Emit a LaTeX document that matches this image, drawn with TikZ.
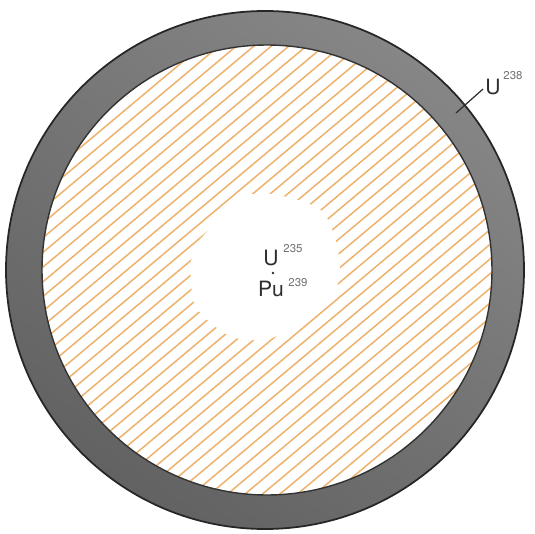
\documentclass[tikz,border=0pt]{standalone}
\usepackage{fontspec}
\setmainfont{TeX Gyre Heros}
\usetikzlibrary{positioning,calc}
\definecolor{ringlight}{RGB}{134,134,134}
\definecolor{ringdark}{RGB}{98,98,98}
\definecolor{hatchorange}{RGB}{238,178,108}
\definecolor{labelgray}{RGB}{45,45,45}
\begin{document}
\begin{tikzpicture}[x=0.02cm,y=-0.02cm,
    elem/.style={inner sep=0pt,text=labelgray,font=\fontsize{12}{12}\selectfont},
    isotope/.style={inner sep=0pt,text=black!55,font=\fontsize{6.5}{7}\selectfont}]
  \useasboundingbox (0,0) rectangle (535,534);
  % shell
  \shade[top color=ringlight,bottom color=ringdark,shading angle=-35]
    (265,270) circle (259);
  \draw[black!85,line width=1pt] (265,270) circle (259);
  \fill[white] (267,270) circle (225);
  % hatching
  \begin{scope}
    \clip (267,270) circle (225);
    \foreach \k in {-30,...,30}
      \draw[hatchorange,line width=0.85pt]
        ({267+\k*17.5-400*cos(40)},{270+400*sin(40)}) --
        ({267+\k*17.5+400*cos(40)},{270-400*sin(40)});
  \end{scope}
  \draw[black!80,line width=0.8pt] (267,270) circle (225);
  % core
  \fill[white] plot[smooth cycle] coordinates {(340,268) (333,232) (318,208)
    (272,194) (240,198) (210,228) (192,255) (195,305) (230,336) (268,339)
    (302,322) (332,298)};
  \node[elem] (u235) at (271,258) {U};
  \node[isotope] (u235sup) at (293,249) {235};
  \fill[labelgray] (273,273) circle (1.3);
  \node[elem] (pu239) at (271,289) {Pu};
  \node[isotope] (pu239sup) at (298,283) {239};
  % blanket label
  \node[elem] (u238) at (493,87) {U};
  \node[isotope] (u238sup) at (513,76) {238};
  \coordinate (tip) at (456,113);
  \draw[labelgray,line width=0.7pt] (tip) -- ($(u238.west)+(-2,2)$);
\end{tikzpicture}
\end{document}
